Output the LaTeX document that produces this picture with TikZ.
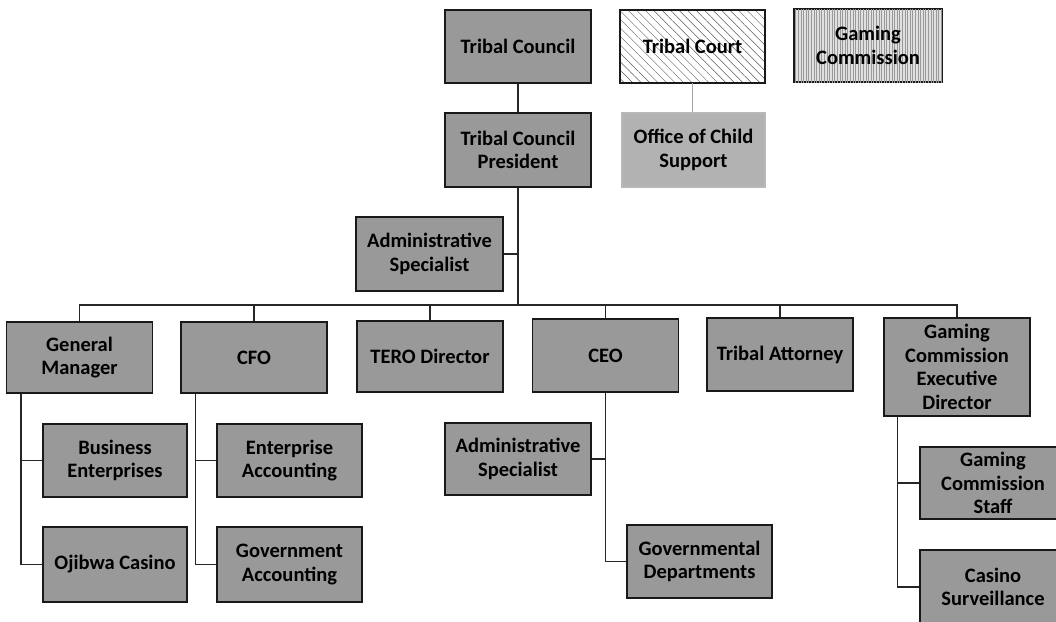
\documentclass[tikz,border=0pt]{standalone}
\usepackage{fontspec}
\setmainfont{Carlito}
\usetikzlibrary{patterns.meta}
\begin{document}
\begin{tikzpicture}[x=1pt,y=-1pt,
  orgbox/.style={draw=black!90, line width=1.2pt, fill=black!40, minimum width=146pt, minimum height=73pt,
    inner sep=2pt, align=center, font=\bfseries\fontsize{20.5}{23.5}\selectfont, text=black},
  link/.style={draw=black!85, line width=1.3pt},
  lightlink/.style={draw=black!35, line width=0.6pt}]
\useasboundingbox (0,0) rectangle (1056,621);
% top row
\node[orgbox] (tc) at (518,46.5) {Tribal Council};
\node[orgbox, fill=white, minimum width=145pt,
  pattern={Lines[angle=-45,distance=6pt,line width=0.45pt]}, pattern color=black!65] (court) at (692.5,46.5) {};
\node[font=\bfseries\fontsize{20.5}{23.5}\selectfont] (courttext) at (court.center) {Tribal Court};
\node[orgbox, minimum width=148pt, fill=black!12,
  postaction={pattern={Lines[angle=90,distance=2.6pt,line width=0.5pt]}, pattern color=black!40}] (gc) at (868,45.5) {};
\node[font=\bfseries\fontsize{20.5}{23.5}\selectfont, align=center] (gctext) at (gc.center) {Gaming\\Commission};
% second row
\node[orgbox, minimum height=74pt] (tcp) at (518,150) {Tribal Council\\President};
\node[orgbox, draw=black!28, fill=black!30, minimum width=143pt, minimum height=74pt] (ocs) at (693.5,150) {Office of Child\\Support};
\node[orgbox, minimum width=147pt, minimum height=74pt] (as1) at (429.5,254) {Administrative\\Specialist};
% main row
\node[orgbox, minimum height=71pt] (gm) at (79.5,357.5) {General\\Manager};
\node[orgbox, minimum height=71pt] (cfo) at (254,357.5) {CFO};
\node[orgbox, minimum height=71pt] (tero) at (430,356.5) {TERO Director};
\node[orgbox] (ceo) at (605.5,355.5) {CEO};
\node[orgbox] (ta) at (780,354.5) {Tribal Attorney};
\node[orgbox, minimum height=98pt] (gced) at (957,367) {Gaming\\Commission\\Executive\\Director};
% sub rows
\node[orgbox, minimum width=144pt] (be) at (115,460.5) {Business\\Enterprises};
\node[orgbox, minimum width=144pt, minimum height=75pt] (oc) at (115,564.5) {Ojibwa Casino};
\node[orgbox, minimum width=145pt] (ea) at (289.5,460.5) {Enterprise\\Accounting};
\node[orgbox, minimum width=145pt, minimum height=75pt] (ga) at (289.5,564.5) {Government\\Accounting};
\node[orgbox, minimum height=72pt] (as2) at (518,459) {Administrative\\Specialist};
\node[orgbox, minimum width=145pt] (gd) at (699.5,561.5) {Governmental\\Departments};
\node[orgbox, minimum height=72pt] (gcs) at (993,483) {Gaming\\Commission\\Staff};
\node[orgbox, minimum height=74pt] (cs) at (993,587) {Casino\\Surveillance};
% connectors
\coordinate (bus) at (518,305);
\draw[link] (tc.south) -- (tcp.north);
\draw[lightlink] (court.south) -- (court.south |- ocs.north);
\draw[link] (tcp.south) -- (bus);
\draw[link] (as1.east) -- (tcp.south |- as1.east);
\draw[link] (gm.north) -- (gm.north |- bus) -- (gced.north |- bus) -- (gced.north);
\foreach \n in {cfo,tero,ceo,ta} \draw[link] (\n.north) -- (\n.north |- bus);
\draw[link] ([xshift=15pt]gm.south west) |- (be.west);
\draw[link] ([xshift=15pt]gm.south west) |- (oc.west);
\draw[link] ([xshift=15pt]cfo.south west) |- (ea.west);
\draw[link] ([xshift=15pt]cfo.south west) |- (ga.west);
\draw[link] (ceo.south) |- (as2.east);
\draw[link] (ceo.south) |- (gd.west);
\draw[link] ([xshift=14pt]gced.south west) |- (gcs.west);
\draw[link] ([xshift=14pt]gced.south west) |- (cs.west);
\end{tikzpicture}
\end{document}
